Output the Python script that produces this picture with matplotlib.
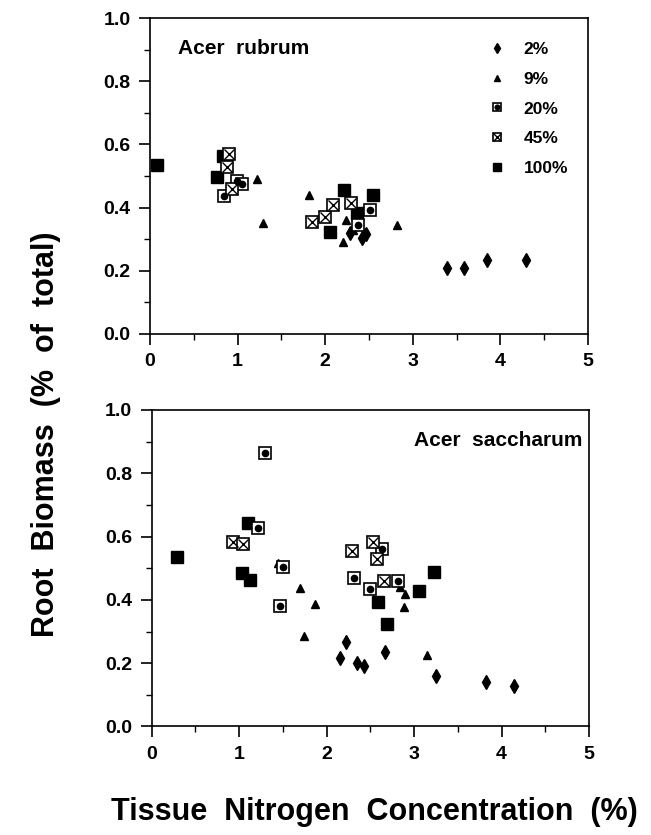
import matplotlib
matplotlib.use('Agg')
import matplotlib.pyplot as plt
from matplotlib.ticker import MultipleLocator

plt.rcParams['font.family'] = ['Liberation Sans', 'DejaVu Sans']
plt.rcParams['font.weight'] = 'bold'

# Acer rubrum (top panel)
r2_x = [2.28, 2.42, 2.47, 3.39, 3.58, 3.85, 4.29]
r2_y = [0.32, 0.305, 0.315, 0.208, 0.21, 0.234, 0.234]
r9_x = [1.22, 1.29, 1.81, 2.24, 2.20, 2.82, 2.32]
r9_y = [0.49, 0.352, 0.44, 0.36, 0.292, 0.345, 0.33]
r20_x = [0.85, 0.99, 1.05, 2.38, 2.51]
r20_y = [0.437, 0.485, 0.475, 0.345, 0.392]
r45_x = [0.90, 0.88, 0.94, 1.85, 2.00, 2.09, 2.30]
r45_y = [0.57, 0.53, 0.46, 0.355, 0.371, 0.408, 0.416]
r100_x = [0.08, 0.83, 0.77, 2.21, 2.05, 2.36, 2.55]
r100_y = [0.535, 0.564, 0.498, 0.456, 0.324, 0.382, 0.44]

# Acer saccharum (bottom panel)
s2_x = [2.15, 2.22, 2.35, 2.43, 2.67, 3.25, 3.82, 4.14]
s2_y = [0.215, 0.268, 0.2, 0.19, 0.235, 0.16, 0.142, 0.129]
s9_x = [1.44, 1.69, 1.87, 1.74, 2.84, 2.89, 2.88, 3.15]
s9_y = [0.518, 0.437, 0.386, 0.287, 0.44, 0.42, 0.378, 0.225]
s20_x = [1.29, 1.21, 1.50, 1.47, 2.31, 2.49, 2.63, 2.81]
s20_y = [0.865, 0.626, 0.503, 0.38, 0.47, 0.434, 0.56, 0.46]
s45_x = [0.93, 1.04, 2.29, 2.53, 2.57, 2.65]
s45_y = [0.584, 0.576, 0.555, 0.584, 0.528, 0.46]
s100_x = [0.29, 1.10, 1.03, 1.12, 2.59, 2.69, 3.05, 3.23]
s100_y = [0.535, 0.642, 0.486, 0.463, 0.394, 0.324, 0.428, 0.487]

labels = ['2%', '9%', '20%', '45%', '100%']


def draw(ax, d2, d9, d20, d45, d100):
    h2, = ax.plot(*d2, 'd', color='black', ms=7, ls='none', zorder=3)
    h9, = ax.plot(*d9, '^', color='black', ms=6, ls='none', zorder=3)
    h100, = ax.plot(*d100, 's', color='black', ms=8.5, ls='none', zorder=4)
    b20, = ax.plot(*d20, 's', mfc='white', mec='black', mew=1.2, ms=8.5, ls='none', zorder=5)
    c20, = ax.plot(*d20, 'o', color='black', ms=4.5, ls='none', zorder=6)
    b45, = ax.plot(*d45, 's', mfc='white', mec='black', mew=1.2, ms=8.5, ls='none', zorder=5)
    x45, = ax.plot(*d45, 'x', color='black', mew=1.0, ms=7, ls='none', zorder=6)
    return [h2, h9, (b20, c20), (b45, x45), h100]


def style(ax):
    ax.set_xlim(0, 5)
    ax.set_ylim(0, 1.0)
    ax.xaxis.set_major_locator(MultipleLocator(1))
    ax.xaxis.set_minor_locator(MultipleLocator(0.5))
    ax.yaxis.set_major_locator(MultipleLocator(0.2))
    ax.yaxis.set_minor_locator(MultipleLocator(0.1))
    ax.yaxis.set_major_formatter(plt.FormatStrFormatter('%.1f'))
    ax.tick_params(which='major', direction='out', length=8, width=1.2,
                   labelsize=14, pad=6)
    ax.tick_params(which='minor', direction='out', length=4, width=1.0)
    for s in ax.spines.values():
        s.set_linewidth(1.2)
    for lab in ax.get_xticklabels() + ax.get_yticklabels():
        lab.set_fontweight('bold')


fig = plt.figure(figsize=(6.51, 8.35), dpi=100)
ax1 = fig.add_axes([0.2304, 0.600, 0.6728, 0.3784])
ax2 = fig.add_axes([0.2330, 0.130, 0.6720, 0.379])

handles = draw(ax1, (r2_x, r2_y), (r9_x, r9_y), (r20_x, r20_y), (r45_x, r45_y), (r100_x, r100_y))
draw(ax2, (s2_x, s2_y), (s9_x, s9_y), (s20_x, s20_y), (s45_x, s45_y), (s100_x, s100_y))
style(ax1)
style(ax2)

ax1.text(0.065, 0.905, 'Acer  rubrum', transform=ax1.transAxes, fontsize=15,
         fontweight='bold', va='center', ha='left')
ax2.text(0.985, 0.905, 'Acer  saccharum', transform=ax2.transAxes, fontsize=15,
         fontweight='bold', va='center', ha='right')

leg = ax1.legend(handles, labels, loc='upper right', frameon=False,
                 prop={'weight': 'bold', 'size': 12.5}, handlelength=1.2,
                 handletextpad=0.9, labelspacing=0.85, markerscale=0.75,
                 bbox_to_anchor=(0.99, 0.975))

fig.text(0.07, 0.48, 'Root  Biomass  (%  of  total)', rotation=90, fontsize=22,
         fontweight='bold', ha='center', va='center')
fig.text(0.575, 0.027, 'Tissue  Nitrogen  Concentration  (%)', fontsize=22,
         fontweight='bold', ha='center', va='center')

fig.savefig('out.png', dpi=100)
